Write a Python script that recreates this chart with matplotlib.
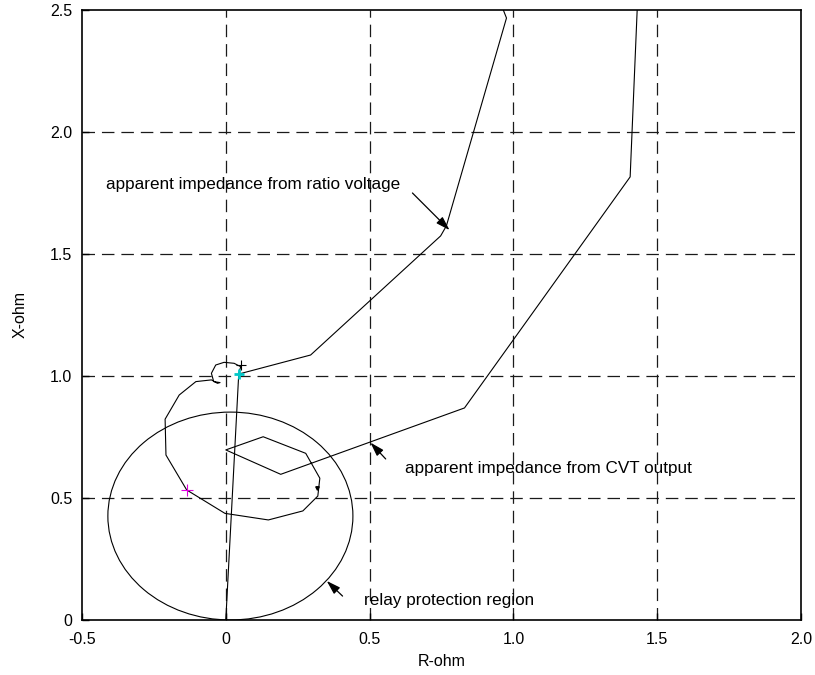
import matplotlib
matplotlib.use("Agg")
import matplotlib.pyplot as plt
from matplotlib.patches import Circle

plt.rcParams['font.family'] = ['Liberation Sans', 'DejaVu Sans']
plt.rcParams['lines.scale_dashes'] = False

# apparent impedance from ratio voltage (R, X in ohm)
ratio_R = [0.0, 0.045, 0.295, 0.747, 0.767, 0.976, 0.965, 0.962]
ratio_X = [0.0, 1.008, 1.086, 1.574, 1.615, 2.467, 2.500, 2.530]

# apparent impedance from CVT output
cvt_R = [1.434, 1.406, 0.830, 0.191, 0.000, 0.130, 0.278, 0.327, 0.320, 0.268,
         0.148, -0.003, -0.136, -0.208, -0.211, -0.162, -0.104, -0.050, -0.029,
         -0.020, -0.042, -0.050, -0.035, -0.006, 0.029, 0.052, 0.044]
cvt_X = [2.600, 1.816, 0.869, 0.597, 0.697, 0.751, 0.683, 0.581, 0.508, 0.447,
         0.410, 0.437, 0.533, 0.676, 0.823, 0.922, 0.977, 0.984, 0.970,
         0.973, 0.977, 1.011, 1.045, 1.056, 1.052, 1.038, 1.007]

# relay protection (mho) circle
circle_center = (0.016, 0.426)
circle_radius = 0.426

# markers
mark_black = (0.052, 1.045)
mark_cyan = (0.045, 1.008)
mark_magenta = (-0.136, 0.533)
mark_small = (0.318, 0.542)

xticks = [-0.5, 0.0, 0.5, 1.0, 1.5, 2.0]
xtick_labels = ['-0.5', '0', '0.5', '1.0', '1.5', '2.0']
yticks = [0.0, 0.5, 1.0, 1.5, 2.0, 2.5]
ytick_labels = ['0', '0.5', '1.0', '1.5', '2.0', '2.5']

fig = plt.figure(figsize=(8.15, 6.75), dpi=100)
ax = fig.add_axes([0.1006, 0.0815, 0.8822, 0.9037])

ax.set_xlim(-0.5, 2.0)
ax.set_ylim(0, 2.5)
ax.set_xticks(xticks)
ax.set_xticklabels(xtick_labels)
ax.set_yticks(yticks)
ax.set_yticklabels(ytick_labels)
ax.tick_params(direction='in', length=5, width=1.0, labelsize=11.5, pad=7)
ax.tick_params(axis='x', pad=9)
for s in ax.spines.values():
    s.set_linewidth(1.2)

for xv in xticks[1:-1]:
    ax.axvline(xv, color='0.1', lw=0.9, dashes=(9, 5), zorder=1)
for yv in yticks[1:-1]:
    ax.axhline(yv, color='0.1', lw=0.9, dashes=(9, 5), zorder=1)

ax.plot(ratio_R, ratio_X, color='k', lw=0.8, zorder=3)
ax.plot(cvt_R, cvt_X, color='k', lw=0.8, zorder=3)
ax.add_patch(Circle(circle_center, circle_radius, fill=False, ec='k', lw=0.8, zorder=3))

ax.plot(*mark_black, marker='+', color='k', ms=7, mew=0.8, zorder=4)
ax.plot(*mark_cyan, marker='+', color='#00c8c8', ms=7, mew=2.0, zorder=5)
ax.plot(*mark_magenta, marker='+', color='#e000e0', ms=8, mew=0.8, zorder=4)
ax.plot(*mark_small, marker='v', color='k', ms=2.5, zorder=4)

ap = dict(arrowstyle='-|>,head_length=0.7,head_width=0.22', color='k', lw=0.9,
          mutation_scale=12, shrinkA=0, shrinkB=0)
ax.annotate('', xy=(0.778, 1.598), xytext=(0.649, 1.750), arrowprops=ap)
ax.annotate('', xy=(0.503, 0.727), xytext=(0.556, 0.660), arrowprops=ap)
ax.annotate('', xy=(0.351, 0.160), xytext=(0.406, 0.098), arrowprops=ap)

ax.text(-0.417, 1.783, 'apparent impedance from ratio voltage', fontsize=12.3, va='center', ha='left')
ax.text(0.622, 0.619, 'apparent impedance from CVT output', fontsize=12.3, va='center', ha='left')
ax.text(0.479, 0.078, 'relay protection region', fontsize=12.3, va='center', ha='left')

ax.set_xlabel('R-ohm', fontsize=11.5, labelpad=5)
ax.set_ylabel('X-ohm', fontsize=11.5, labelpad=16)

fig.savefig('out.png', dpi=100)
